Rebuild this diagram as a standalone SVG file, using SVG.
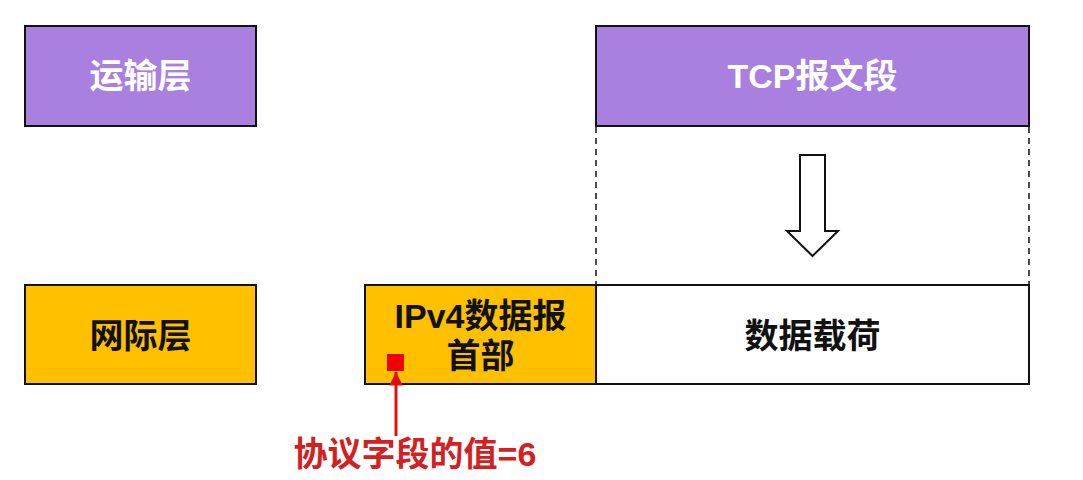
<svg xmlns="http://www.w3.org/2000/svg" width="1083" height="480" viewBox="0 0 1083 480">
<style>
.box{stroke:#111;stroke-width:2}
.purple{fill:#A97FE0}
.yellow{fill:#FFC000}
.t{font-family:"Liberation Sans","Noto Sans CJK SC",sans-serif;font-weight:bold;text-anchor:middle;dominant-baseline:central}
.w{fill:#fff;font-size:34px}
.k{fill:#111;font-size:34px}
</style>
<defs>
<marker id="ah" viewBox="0 0 10 10" refX="10" refY="5" markerWidth="4.5" markerHeight="4.5" orient="auto"><path d="M0,0 L10,5 L0,10 z" fill="#E01010"/></marker>
</defs>
<rect width="1083" height="480" fill="#fff"/>
<g id="transport">
<rect class="box purple" x="25" y="26" width="231" height="100"/>
<text class="t w" x="140.5" y="76">运输层</text>
</g>
<g id="tcp">
<rect class="box purple" x="596" y="26" width="433" height="100"/>
<text class="t w" x="812.5" y="76">TCP报文段</text>
</g>
<g id="internet">
<rect class="box yellow" x="25" y="285" width="231" height="99"/>
<text class="t k" x="140.5" y="336">网际层</text>
</g>
<g id="ipv4header">
<rect class="box yellow" x="365" y="285" width="231" height="99"/>
<text class="t k" x="480.5" y="316">IPv4数据报</text>
<text class="t k" x="480.5" y="356">首部</text>
<rect x="387" y="354" width="17" height="17" fill="#F00000"/>
</g>
<g id="payload">
<rect class="box" x="596" y="285" width="433" height="99" fill="#fff"/>
<text class="t k" x="812.5" y="336">数据载荷</text>
</g>
<g id="label">
<text class="t" x="415" y="454" font-size="34" fill="#D42020">协议字段的值=6</text>
</g>
<g id="connectors">
<line x1="596" y1="127" x2="596" y2="284" stroke="#111" stroke-width="1.5" stroke-dasharray="6,5"/>
<line x1="1029" y1="127" x2="1029" y2="284" stroke="#111" stroke-width="1.5" stroke-dasharray="6,5"/>
<path d="M800,155 L825,155 L825,231 L838,231 L812.5,256 L787,231 L800,231 Z" fill="#fff" stroke="#111" stroke-width="2"/>
<line x1="396" y1="436" x2="396" y2="372" stroke="#E01010" stroke-width="3" marker-end="url(#ah)"/>
</g>
</svg>
